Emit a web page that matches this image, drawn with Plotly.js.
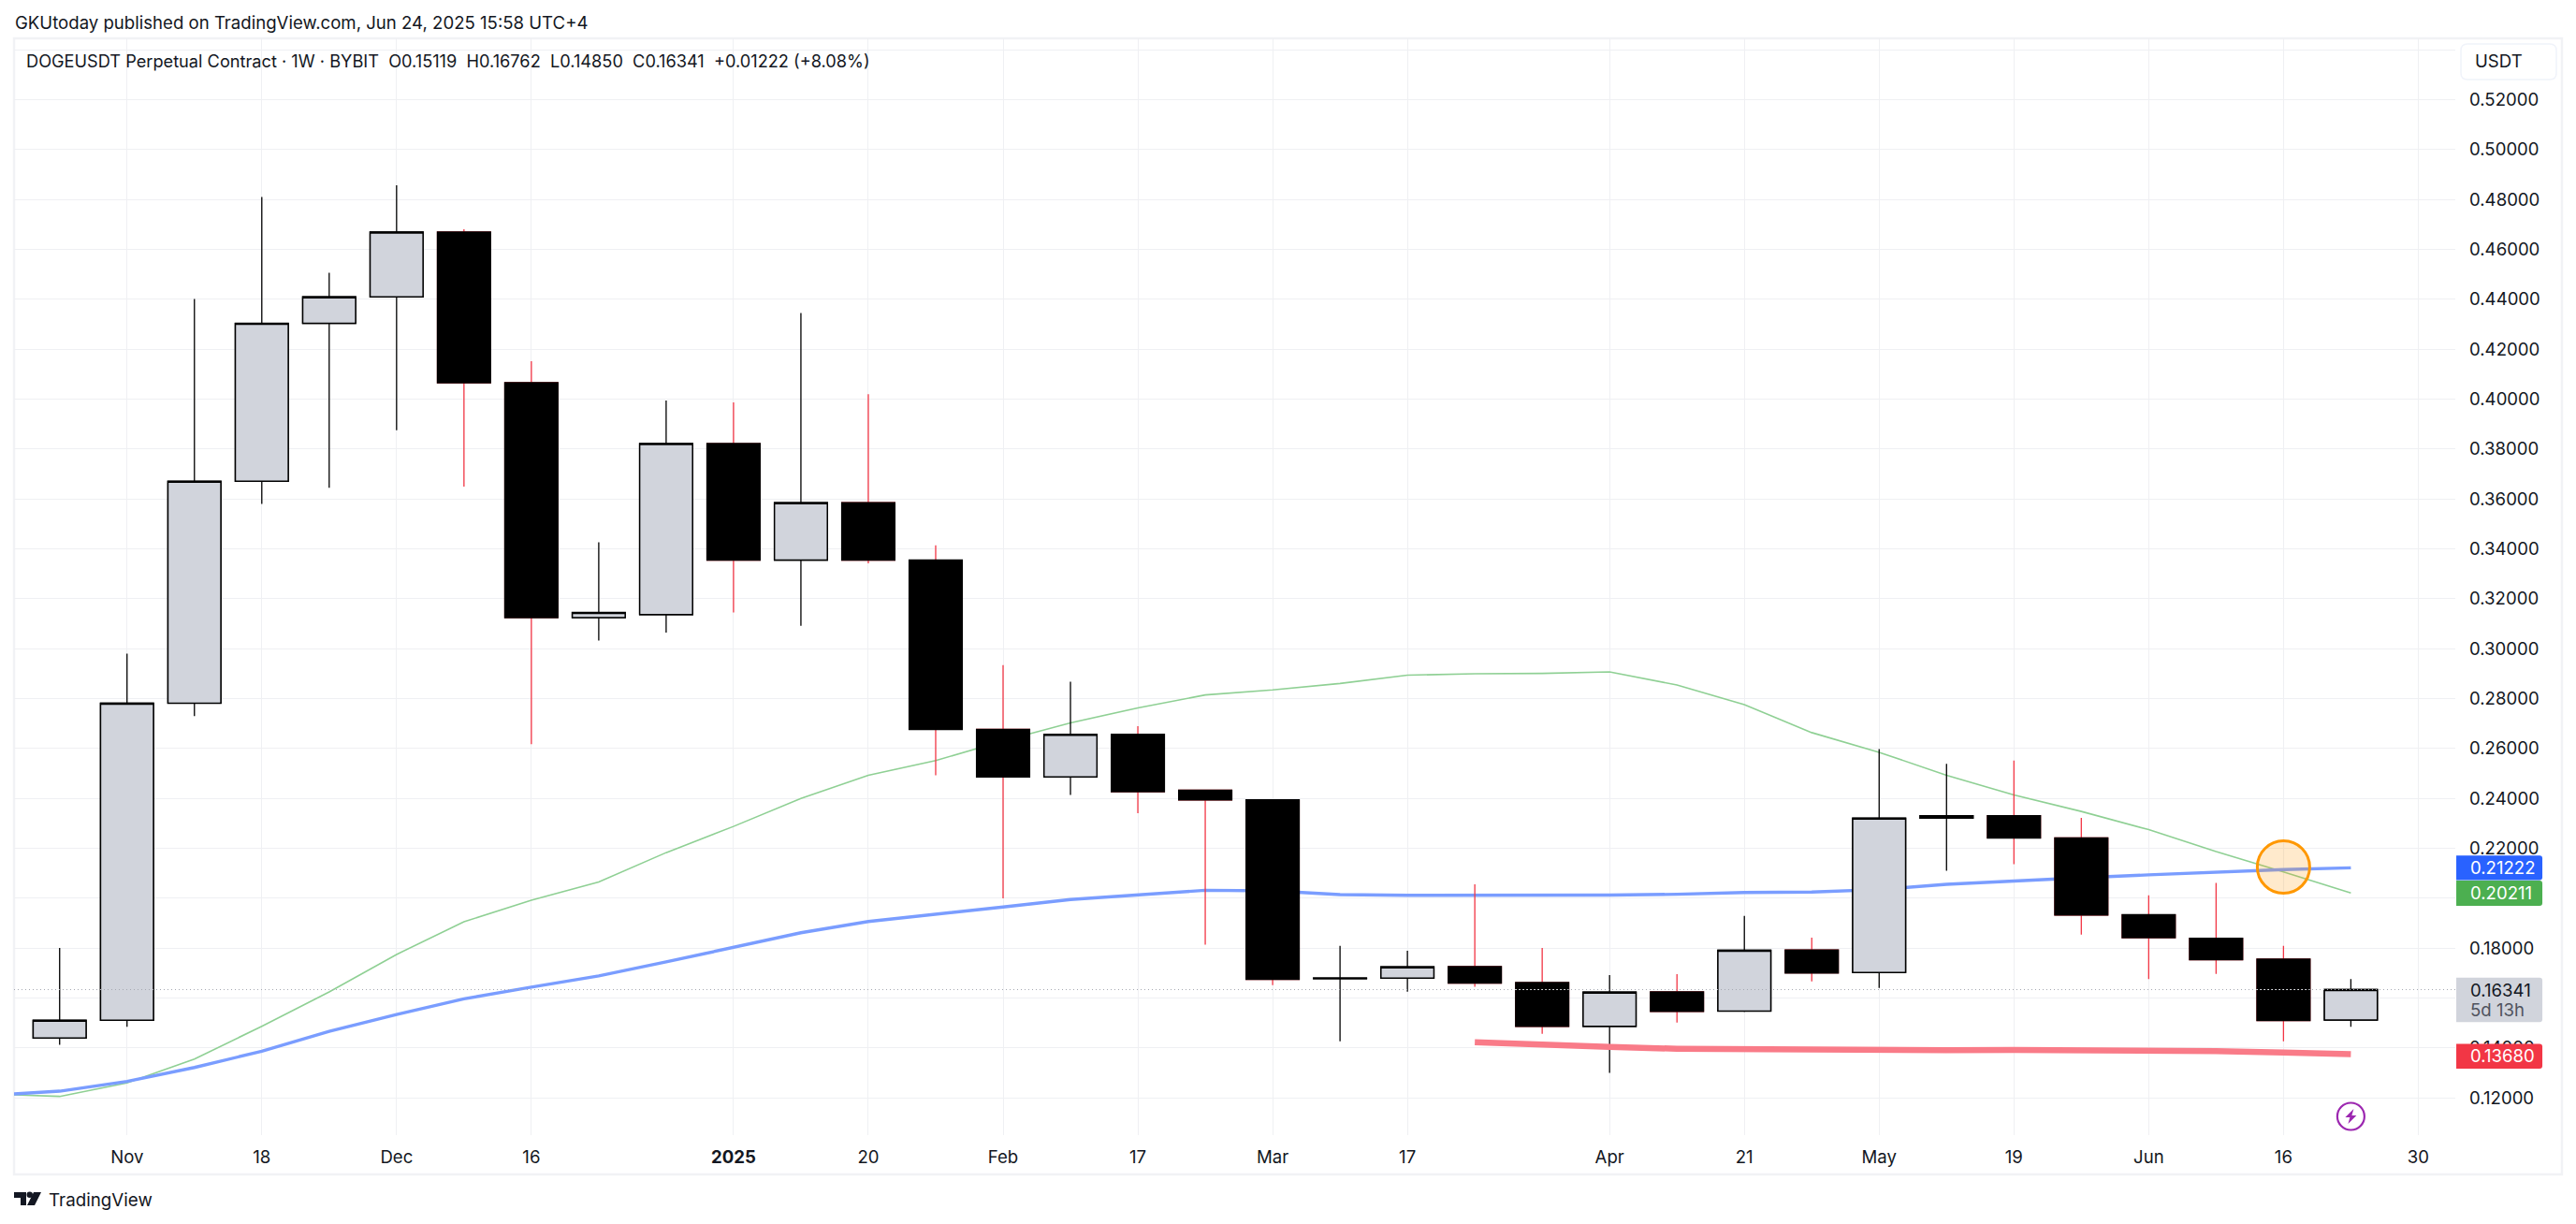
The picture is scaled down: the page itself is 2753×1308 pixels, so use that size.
<!DOCTYPE html>
<html><head><meta charset="utf-8">
<script src="https://cdn.plot.ly/plotly-3.0.1.min.js"></script>
<style>html,body{margin:0;padding:0;background:#fff}#c{width:2753px;height:1308px}</style>
</head><body><div id="c"></div>
<script>
const weeks = ["2024-10-28","2024-11-04","2024-11-11","2024-11-18","2024-11-25","2024-12-02","2024-12-09","2024-12-16","2024-12-23","2024-12-30","2025-01-06","2025-01-13","2025-01-20","2025-01-27","2025-02-03","2025-02-10","2025-02-17","2025-02-24","2025-03-03","2025-03-10","2025-03-17","2025-03-24","2025-03-31","2025-04-07","2025-04-14","2025-04-21","2025-04-28","2025-05-05","2025-05-12","2025-05-19","2025-05-26","2025-06-02","2025-06-09","2025-06-16","2025-06-23"];
const opens  = [.144,.1511,.2782,.3671,.4304,.441,.467,.4066,.3125,.3137,.3822,.3355,.3585,.3355,.2677,.2486,.2657,.2433,.2394,.1678,.168,.1726,.1662,.1487,.1625,.1548,.1793,.1703,.2321,.2331,.2242,.1934,.1839,.1756,.15119];
const highs  = [.1801,.298,.4402,.481,.4507,.4857,.4681,.4152,.3427,.3995,.3987,.4345,.402,.3414,.2934,.2868,.269,.2433,.2394,.1809,.179,.2056,.1801,.1692,.1696,.1929,.1842,.2598,.2539,.2552,.2322,.2012,.2062,.1809,.16762];
const lows   = [.1413,.1485,.273,.358,.3645,.3876,.365,.2618,.3033,.3065,.3145,.3092,.3342,.2493,.2,.2414,.2341,.1814,.1652,.1427,.1626,.1645,.1457,.13,.1502,.1545,.1667,.1641,.211,.2137,.1854,.1676,.1697,.1427,.1485];
const closes = [.1511,.2782,.3671,.4304,.441,.467,.4066,.3125,.3145,.3822,.3355,.3585,.3355,.2677,.2486,.2657,.2427,.2394,.1675,.168,.1725,.166,.1487,.1624,.1547,.1792,.1701,.2321,.2331,.2242,.1933,.1842,.1754,.151,.16341];
const lineDates = ["2024-10-21"].concat(weeks);
const greenLine = [.1215,.1206,.126,.1356,.1487,.1625,.1775,.1906,.1992,.2065,.2183,.2288,.24,.2493,.2552,.2631,.2703,.2763,.2815,.2835,.2861,.2894,.29,.2901,.2907,.2855,.2776,.2664,.2585,.2493,.2414,.2348,.2275,.2187,.2106,.20211];
const blueLine  = [.1211,.1227,.1266,.1322,.1387,.1467,.1534,.1597,.1644,.1689,.1745,.1805,.1862,.1907,.1935,.1965,.1995,.2012,.2032,.203,.2015,.2012,.2012,.2012,.2013,.2016,.2023,.2025,.2035,.2056,.207,.2082,.2094,.2106,.2115,.21222];
const redDates = weeks.slice(21);
const redLine  = [.1423,.1412,.1404,.1397,.1394,.1391,.139,.1391,.1392,.1392,.1391,.1388,.1382,.1375,.1368];
const tickDates = ["2024-11-04","2024-11-18","2024-12-02","2024-12-16","2025-01-06","2025-01-20","2025-02-03","2025-02-17","2025-03-03","2025-03-17","2025-04-07","2025-04-21","2025-05-05","2025-05-19","2025-06-02","2025-06-16","2025-06-30"];
const tickLabels = ["Nov","18","Dec","16","<b>2025</b>","20","Feb","17","Mar","17","Apr","21","May","19","Jun","16","30"];
const priceTicks = [.12,.14,.16,.18,.20,.22,.24,.26,.28,.30,.32,.34,.36,.38,.40,.42,.44,.46,.48,.50,.52,.54];
const hiddenPriceLabels = [.16,.20,.54];
const headerText = "GKUtoday published on TradingView.com, Jun 24, 2025 15:58 UTC+4";
const legendText = "DOGEUSDT Perpetual Contract · 1W · BYBIT\u00a0\u00a0O0.15119\u00a0\u00a0H0.16762\u00a0\u00a0L0.14850\u00a0\u00a0C0.16341\u00a0\u00a0+0.01222 (+8.08%)";
const crossDate = "2025-06-16", crossValue = 0.2125;
const eventDate = "2025-06-23", eventValue = 0.1126;
const lastPrice = closes[closes.length-1];
const countdown = "5d 13h";

const W=2753,H=1308,L=15,R=2624,T=41,B=1213;
const px=x=>(x-L)/(R-L), py=y=>(B-y)/(B-T);
const FONT='Inter, "Noto Sans", sans-serif', INK='#131722';
const xRange=["2024-10-23 06:20","2025-07-03 20:20"], yRange=[.1051,.5446];
const last=a=>a[a.length-1];
const blackBodies=[22,33];

const wickTrace={type:'candlestick',x:weeks,open:opens,high:highs,low:lows,close:closes,xaxis:'x2',yaxis:'y2',whiskerwidth:0,hoverinfo:'skip',showlegend:false,
  increasing:{line:{color:'#000',width:1.3},fillcolor:'#d1d4dc'},decreasing:{line:{color:'#f23645',width:1.3},fillcolor:'#000'}};
const bodyTrace={type:'candlestick',x:weeks,open:opens,close:closes,
  high:opens.map((o,i)=>Math.max(o,closes[i])),low:opens.map((o,i)=>Math.min(o,closes[i])),xaxis:'x2',yaxis:'y2',whiskerwidth:0,hoverinfo:'skip',showlegend:false,
  increasing:{line:{color:'#000',width:1.5},fillcolor:'#d1d4dc'},decreasing:{line:{color:'#000',width:1.5},fillcolor:'#000'}};
const line=(x,y,color,width,extra={})=>Object.assign({type:'scatter',mode:'lines',x,y,hoverinfo:'skip',showlegend:false,line:Object.assign({color,width},extra.line||{})},extra.top?{xaxis:'x2',yaxis:'y2'}:{});
const halfBody=2.75*86400000;
const whiteDots=blackBodies.map(i=>{const t=Date.parse(weeks[i]+'T00:00:00Z');
  return line([new Date(t-halfBody).toISOString(),new Date(t+halfBody).toISOString()],[lastPrice,lastPrice],'#fff',1,{top:true,line:{dash:'1px,3px'}});});
const traces=[
  line(lineDates,greenLine,'#8fd094',1.6),
  line(lineDates,blueLine,'#7a9dff',3.4),
  wickTrace,bodyTrace,
  line(xRange,[lastPrice,lastPrice],'#a6a9b2',1,{top:true,line:{dash:'1px,3px'}}),
  ...whiteDots,
  line(redDates,redLine,'#f97b88',6.5,{top:true}),
  {type:'scatter',mode:'markers',x:[crossDate],y:[crossValue],xaxis:'x2',yaxis:'y2',hoverinfo:'skip',showlegend:false,
    marker:{size:56,color:'rgba(255,152,0,0.2)',line:{color:'#ff9800',width:3}}},
  {type:'scatter',mode:'markers',x:[eventDate],y:[eventValue],xaxis:'x2',yaxis:'y2',hoverinfo:'skip',showlegend:false,
    marker:{size:29,color:'#fff',line:{color:'#9c27b0',width:2.2}}}
];

function ann(text,x,y,size,color,anchor,extra){return Object.assign({text,xref:'paper',yref:'paper',x:px(x),y:py(y),xanchor:anchor||'left',yanchor:'middle',showarrow:false,font:{family:FONT,size,color},borderpad:0},extra||{});}
function tag(value,color,h1,h2){
  const w=92,r=3;
  return {type:'path',xref:'paper',yref:'y2',xsizemode:'pixel',ysizemode:'pixel',xanchor:1.0004,yanchor:value,layer:'above',line:{width:0},fillcolor:color,
    path:`M0,${h1} L${w-r},${h1} Q${w},${h1} ${w},${h1-r} L${w},${-h2+r} Q${w},${-h2} ${w-r},${-h2} L0,${-h2} Z`};
}
const tagRows=[
  {v:last(blueLine),c:'#2962ff',t:'#fff',h1:13.2,h2:13.2},
  {v:last(greenLine),c:'#4caf50',t:'#fff',h1:13.2,h2:13.6},
  {v:lastPrice,c:'#d1d4dc',t:INK,h1:12.8,h2:34.8},
  {v:last(redLine),c:'#f23645',t:'#fff',h1:13,h2:13.6}
];
const rr=(x0,y0,x1,y1,r)=>`M${px(x0+r)},${py(y0)} L${px(x1-r)},${py(y0)} Q${px(x1)},${py(y0)} ${px(x1)},${py(y0+r)} L${px(x1)},${py(y1-r)} Q${px(x1)},${py(y1)} ${px(x1-r)},${py(y1)} L${px(x0+r)},${py(y1)} Q${px(x0)},${py(y1)} ${px(x0)},${py(y1-r)} L${px(x0)},${py(y0+r)} Q${px(x0)},${py(y0)} ${px(x0+r)},${py(y0)} Z`;
const shapes=[
  {type:'rect',xref:'paper',yref:'paper',x0:px(15),x1:px(2738),y0:py(41),y1:py(1255),layer:'below',line:{color:'#f1f2f5',width:2.5},fillcolor:'rgba(0,0,0,0)'},
  {type:'path',xref:'paper',yref:'paper',layer:'above',path:rr(2630,47,2732,85,7),line:{color:'#f0f3fa',width:1.5},fillcolor:'#fff'},
  {type:'path',xref:'paper',yref:'paper',xsizemode:'pixel',ysizemode:'pixel',xanchor:px(15),yanchor:py(1288),layer:'above',line:{width:0},fillcolor:'#131722',
    path:'M0,14 L13,14 L13,0 L7,0 L7,8 L0,8 Z M21,14 L29,14 L22,0 L14,0 Z'},
  {type:'circle',xref:'paper',yref:'paper',xsizemode:'pixel',ysizemode:'pixel',xanchor:px(15),yanchor:py(1288),layer:'above',line:{width:0},fillcolor:'#131722',x0:13.5,x1:20,y0:8,y1:14.5},
  {type:'path',xref:'x2',yref:'y2',xsizemode:'pixel',ysizemode:'pixel',xanchor:eventDate,yanchor:eventValue,layer:'above',line:{width:0},fillcolor:'#9c27b0',
    path:'M3,8 L-6,-1 L-1,-1 L-3,-8 L6,1 L1,1 Z'}
];
tagRows.forEach(r=>shapes.push(tag(r.v,r.c,r.h1,r.h2)));
const annotations=[
  ann(headerText,15,24,18.6,INK),
  ann(legendText,27,65,18.2,INK),
  ann('USDT',2644,65,18.6,INK),
  ann('TradingView',51,1283,18.8,INK)
];
tagRows.forEach(r=>annotations.push({text:r.v.toFixed(5),xref:'paper',yref:'y2',x:px(2638),y:r.v,xanchor:'left',yanchor:'middle',showarrow:false,font:{family:FONT,size:18.6,color:r.t}}));
annotations.push({text:countdown,xref:'paper',yref:'y2',x:px(2638),y:lastPrice,yshift:-21,xanchor:'left',yanchor:'middle',showarrow:false,font:{family:FONT,size:18.6,color:'#50535e'}});

const grid='#eff0f3';
const layout={width:W,height:H,paper_bgcolor:'#fff',plot_bgcolor:'#fff',margin:{l:L,r:W-R,t:T,b:H-B,pad:0},showlegend:false,boxgap:.214,boxgroupgap:0,boxmode:'overlay',hovermode:false,
  xaxis:{type:'date',range:xRange,rangeslider:{visible:false},tickmode:'array',tickvals:tickDates,ticktext:tickLabels,showgrid:true,gridcolor:grid,gridwidth:1,zeroline:false,showline:false,ticks:'',ticklabelstandoff:10,tickfont:{family:FONT,size:18.6,color:INK},fixedrange:true},
  yaxis:{range:yRange,side:'right',tickmode:'array',tickvals:priceTicks,ticktext:priceTicks.map(v=>hiddenPriceLabels.includes(v)?'':v.toFixed(5)),showgrid:true,gridcolor:grid,gridwidth:1,zeroline:false,showline:false,ticks:'',ticklabelstandoff:14,tickfont:{family:FONT,size:18.6,color:INK},fixedrange:true},
  xaxis2:{type:'date',range:xRange,overlaying:'x',visible:false,rangeslider:{visible:false},fixedrange:true},
  yaxis2:{range:yRange,overlaying:'y',visible:false,fixedrange:true},
  shapes,annotations};
Plotly.newPlot('c',traces,layout,{displayModeBar:false,staticPlot:true});
</script></body></html>
